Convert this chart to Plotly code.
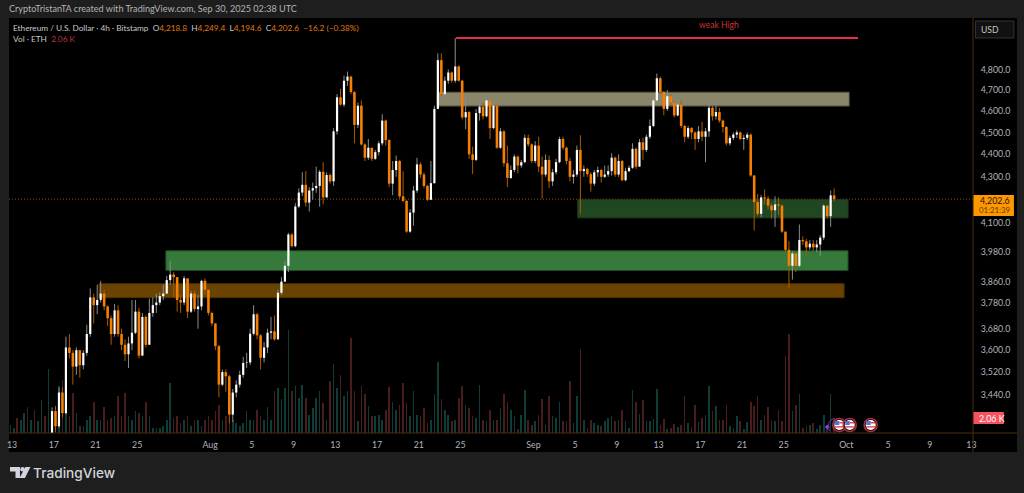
import math
import pandas as pd
import plotly.graph_objects as go

# ---------- data ----------
first_open = 3290
close = [3382,3330,3447,3375,3610,3590,3540,3600,3545,3590,3660,3800,3770,3790,3815,3765,3720,3660,3750,3660,
 3620,3585,3625,3665,3745,3580,3725,3620,3740,3770,3780,3805,3815,3868,3890,3880,3790,3780,3875,3745,
 3815,3755,3765,3865,3830,3740,3700,3615,3475,3520,3505,3370,3447,3475,3510,3553,3555,3661,3735,3655,
 3572,3610,3665,3670,3640,3818,3862,3925,4053,4005,4171,4231,4265,4188,4240,4250,4260,4322,4210,4308,
 4280,4505,4665,4630,4745,4765,4690,4535,4625,4445,4385,4430,4380,4410,4450,4555,4465,4270,4330,4370,
 4215,4195,4065,4145,4240,4355,4310,4260,4200,4272,4610,4846,4680,4745,4785,4745,4815,4745,4570,4595,
 4400,4375,4590,4620,4575,4650,4520,4625,4430,4505,4360,4295,4330,4390,4350,4365,4475,4445,4370,4440,
 4345,4310,4375,4280,4320,4365,4470,4430,4370,4300,4310,4420,4325,4335,4312,4270,4320,4330,4300,4310,
 4325,4385,4310,4370,4285,4325,4340,4425,4345,4455,4420,4480,4530,4650,4757,4690,4610,4670,4640,4579,
 4630,4530,4480,4520,4500,4470,4505,4480,4505,4615,4575,4595,4555,4525,4450,4475,4490,4500,4470,4475,
 4490,4306,4190,4140,4210,4205,4175,4155,4180,4175,4065,3990,3925,3975,3925,4030,4025,4000,4015,4000,
 4012,4040,4175,4130,4219,4202.6]
high = [3395,3400,3465,3465,3650,3660,3600,3610,3590,3600,3695,3835,3815,3850,3865,3830,3770,3730,3775,3770,
 3680,3640,3650,3790,3790,3760,3740,3730,3795,3800,3815,3820,3850,3885,3945,3900,3870,3810,3885,3875,
 3825,3825,3810,3870,3875,3830,3745,3700,3620,3530,3530,3510,3460,3490,3525,3575,3590,3680,3770,3740,
 3660,3630,3680,3725,3730,3830,3880,3945,4060,4060,4185,4250,4320,4325,4255,4275,4345,4330,4365,4320,
 4315,4520,4680,4705,4770,4790,4770,4695,4640,4650,4450,4470,4425,4420,4460,4585,4560,4470,4370,4395,
 4375,4325,4200,4160,4260,4385,4365,4320,4265,4370,4625,4880,4880,4765,4800,4790,4957,4820,4750,4672,
 4600,4435,4610,4635,4640,4655,4650,4635,4625,4520,4510,4440,4350,4400,4395,4375,4490,4490,4450,4460,
 4480,4390,4400,4395,4335,4380,4480,4480,4435,4385,4330,4440,4487,4350,4340,4320,4330,4345,4335,4350,
 4350,4405,4390,4400,4375,4340,4350,4450,4430,4470,4475,4490,4560,4665,4780,4765,4695,4700,4680,4645,
 4650,4650,4535,4530,4525,4505,4530,4550,4520,4640,4625,4625,4615,4560,4530,4485,4500,4510,4505,4490,
 4500,4495,4306,4225,4220,4245,4215,4185,4215,4210,4180,4065,4025,3985,3975,4095,4045,4035,4030,4030,
 4030,4050,4180,4170,4240,4249.4]
low = [3290,3310,3325,3360,3370,3570,3475,3510,3500,3530,3580,3650,3700,3735,3780,3750,3690,3620,3650,3650,
 3600,3560,3535,3600,3660,3570,3580,3610,3620,3725,3740,3770,3790,3815,3850,3800,3745,3740,3770,3720,
 3740,3745,3680,3750,3810,3730,3690,3600,3430,3470,3450,3340,3345,3430,3465,3500,3535,3545,3655,3640,
 3530,3555,3590,3640,3635,3640,3810,3860,3900,4000,4000,4165,4215,4170,4150,4200,4230,4170,4180,4250,
 4270,4260,4490,4625,4620,4720,4680,4450,4520,4440,4370,4375,4370,4375,4395,4440,4440,4255,4220,4300,
 4205,4190,4060,4060,4090,4230,4295,4250,4195,4200,4270,4610,4670,4670,4730,4735,4735,4740,4560,4515,
 4380,4312,4370,4555,4560,4570,4470,4515,4425,4425,4345,4255,4290,4320,4315,4340,4360,4435,4360,4360,
 4320,4205,4300,4250,4260,4310,4360,4420,4355,4280,4270,4300,4140,4300,4300,4235,4260,4300,4275,4295,
 4300,4305,4300,4300,4280,4280,4320,4335,4335,4350,4375,4410,4470,4525,4650,4680,4580,4600,4625,4570,
 4575,4520,4455,4470,4470,4420,4455,4460,4365,4480,4555,4560,4545,4500,4440,4440,4465,4475,4465,4420,
 4465,4300,4070,4130,4125,4180,4160,4120,4085,4135,4060,3980,3837,3870,3900,3920,4010,3970,3990,3985,
 3980,3965,4030,4120,4085,4194.6]

# volume in thousands of ETH; the first twelve bars come before the visible candles
early_down = [0,0,1,0,0,1,0,1,0,0,1,0]
volume = [1.1,0.7,2.0,1.8,2.7,3.6,1.8,3.2,1.6,4.5,2.3,8.7,2.7,3.6,6.4,7.3,4.1,2.3,5.5,2.7,
 0.9,0.9,1.8,2.3,4.3,1.8,1.8,3.6,1.8,2.1,2.3,5.0,2.3,5.5,2.3,1.8,3.0,2.7,2.3,4.3,
 2.3,0.7,0.7,0.7,0.9,1.8,6.8,2.1,2.3,1.4,1.8,2.3,0.9,1.8,1.8,0.9,1.8,2.3,1.8,3.0,
 3.9,1.8,2.3,2.3,1.8,1.4,0.9,1.4,3.0,1.8,1.8,3.2,2.3,1.8,3.6,1.8,5.7,6.2,4.6,6.2,
 14.1,5.7,6.4,4.8,6.6,4.8,2.5,3.4,4.8,5.7,4.1,1.8,7.1,9.5,6.2,8.0,5.0,5.7,13.0,5.7,
 1.6,6.4,5.3,3.7,2.3,2.3,2.4,1.8,3.2,6.3,4.3,3.2,3.9,6.8,4.1,2.3,5.7,2.5,2.3,3.4,
 1.4,1.8,5.3,9.7,4.6,3.2,2.5,1.6,1.8,4.8,6.4,3.9,3.4,2.3,2.1,6.6,1.8,1.6,3.2,1.8,
 1.8,3.4,5.3,4.3,3.2,2.3,0.5,2.5,5.9,1.8,1.1,1.6,2.5,4.6,1.1,5.0,2.3,2.1,4.2,1.6,
 1.6,7.1,1.4,5.0,11.5,1.8,0.7,1.8,1.4,1.1,1.0,1.6,2.1,2.3,1.6,1.8,3.1,1.6,0.7,5.9,
 4.2,2.6,4.5,1.6,1.6,1.9,6.0,1.1,1.9,0.5,0.7,1.3,0.8,1.1,5.0,1.4,0.8,3.9,1.5,2.1,
 2.5,6.4,3.0,3.7,1.8,1.8,3.9,1.0,0.7,2.3,1.6,0.5,1.5,4.2,3.7,5.1,1.8,2.5,3.6,1.8,
 1.6,3.2,1.6,10.6,13.5,3.0,3.9,5.4,0.7,0.9,1.1,1.4,0.5,1.1,2.5,1.1,5.4,2.06]

price_ticks = [4800,4700,4600,4500,4400,4300,4100,3980,3860,3780,3680,3600,3520,3440]
date_ticks = ["2025-07-13","2025-07-17","2025-07-21","2025-07-25","2025-08-01","2025-08-05","2025-08-09",
              "2025-08-13","2025-08-17","2025-08-21","2025-08-25","2025-09-01","2025-09-05","2025-09-09",
              "2025-09-13","2025-09-17","2025-09-21","2025-09-25","2025-10-01","2025-10-05","2025-10-09","2025-10-13"]
date_labels = ["13","17","21","25","Aug","5","9","13","17","21","25","Sep","5","9","13","17","21","25","Oct","5","9","13"]

zones = [
    ("2025-08-22 18:30","2025-10-01 07:00",4623,4690,"#8a866b","#3d3b2c"),
    ("2025-09-05 06:00","2025-10-01 04:00",4123,4200,"#1f4722","#2a3a20"),
    ("2025-07-27 18:00","2025-10-01 04:00",3906,3986,"#357a3a","#1f4a22"),
    ("2025-07-21 08:00","2025-09-30 19:00",3799,3854,"#6b4300","#4a2f00"),
]
weak_high = 4957
last_price = 4202.6

# ---------- derived series ----------
opens = [first_open] + close[:-1]
dates = list(pd.date_range("2025-07-16 20:00", periods=len(close), freq="8h"))
vol_dates = pd.date_range("2025-07-12 20:00", periods=len(volume), freq="8h")
down = list(early_down) + [c < o for o, c in zip(opens, close)]
vol_colors = ["#4a1d1d" if d else "#0e3d38" for d in down]

def segments(idx, lo, hi):
    xs, ys = [], []
    for i in idx:
        xs += [dates[i], dates[i], None]
        ys += [lo[i], hi[i], None]
    return xs, ys

body_hi = [max(o, c) for o, c in zip(opens, close)]
body_lo = [min(o, c) for o, c in zip(opens, close)]
wick_hi = [max(h, b) for h, b in zip(high, body_hi)]
wick_lo = [min(l, b) for l, b in zip(low, body_lo)]
up_idx = [i for i in range(len(close)) if close[i] >= opens[i]]
dn_idx = [i for i in range(len(close)) if close[i] < opens[i]]

# plot area in page pixels
L, R, T, B = 7, 973, 18, 433
def fx(px): return (px - L) / (R - L)
def fy(py): return (B - py) / (B - T)

fig = go.Figure()
fig.add_trace(go.Bar(x=vol_dates, y=volume, marker=dict(color=vol_colors, line_width=0),
                     width=8*3600*1000*0.46, yaxis="y", hoverinfo="skip", showlegend=False))
for idx, lo, hi, col, w in [
    (up_idx, wick_lo, wick_hi, "#8c8c8c", 1),
    (dn_idx, wick_lo, wick_hi, "#a85c00", 1),
    (dn_idx, body_lo, body_hi, "#f57f00", 2.6),
    (up_idx, body_lo, body_hi, "#ffffff", 2.2),
]:
    xs, ys = segments(idx, lo, hi)
    fig.add_trace(go.Scatter(x=xs, y=ys, mode="lines", yaxis="y2", line=dict(color=col, width=w),
                             connectgaps=False, hoverinfo="skip", showlegend=False))

shapes = []
def rect_px(x0, y0, x1, y1, fill, line=None, layer="above", lw=1):
    shapes.append(dict(type="rect", xref="paper", yref="paper", x0=fx(x0), x1=fx(x1), y0=fy(y0), y1=fy(y1),
                       fillcolor=fill, line=dict(color=line or fill, width=lw if line else 0), layer=layer))
def line_px(x0, y0, x1, y1, color, w=1):
    shapes.append(dict(type="line", xref="paper", yref="paper", x0=fx(x0), x1=fx(x1), y0=fy(y0), y1=fy(y1),
                       line=dict(color=color, width=w), layer="above"))
def circle_px(cx, cy, r, fill, line=None, lw=1):
    shapes.append(dict(type="circle", xref="paper", yref="paper", x0=fx(cx-r), x1=fx(cx+r), y0=fy(cy+r), y1=fy(cy-r),
                       fillcolor=fill, line=dict(color=line or fill, width=lw if line else 0), layer="above"))
def path_px(points, fill):
    d = "M " + " L ".join(f"{fx(x):.5f},{fy(y):.5f}" for x, y in points) + " Z"
    shapes.append(dict(type="path", xref="paper", yref="paper", path=d, fillcolor=fill,
                       line=dict(color=fill, width=0), layer="above"))

# chart panel
rect_px(7, 18, 1017, 452, "#000000", layer="below")
# zones
for x0, x1, y0, y1, fill, edge in zones:
    shapes.append(dict(type="rect", xref="x", yref="y2", x0=x0, x1=x1, y0=y0, y1=y1, fillcolor=fill,
                       line=dict(color=edge, width=1), layer="below"))
# weak-high line and last-price line
shapes.append(dict(type="line", xref="x", yref="y2", x0="2025-08-24 14:00", x1="2025-10-02 03:00", y0=weak_high, y1=weak_high,
                   line=dict(color="#ea2a4c", width=2), layer="above"))
shapes.append(dict(type="line", xref="paper", yref="y2", x0=0, x1=1, y0=last_price, y1=last_price,
                   line=dict(color="#b86a00", width=0.8, dash="1px,2px"), layer="below"))
# axes borders
line_px(973, 18, 973, 452, "#4a2f0c", 1)
line_px(7, 433, 1017, 433, "#4a2f0c", 1)
# USD box, last-price tag, volume tag
rect_px(975.5, 21, 1014, 38, "#111111", "#333333")
rect_px(973.5, 195, 1014, 216, "#ff9800")
rect_px(973.5, 412, 1004, 424, "#f7525f")
# news flags
for cx in (839, 849.5, 870.5):
    circle_px(cx, 425, 6.6, "#2a0d10", "#a8323e", 1.4)
    circle_px(cx, 425, 5, "#ffffff")
    rect_px(cx-4.5, 421, cx, 425, "#4a78d8")
    rect_px(cx-4.8, 426.2, cx+4.8, 427.6, "#e04555")
    rect_px(cx, 422, cx+4.2, 423.5, "#e04555")
# purple event marker
path_px([(827,424.5),(829.5,427),(827,429.5),(824.5,427)], "#8a3fe0")
shapes.append(dict(type="path", xref="paper", yref="paper",
                   path=f"M {fx(834):.5f},{fy(418.5):.5f} Q {fx(826):.5f},{fy(420):.5f} {fx(829):.5f},{fy(431):.5f}",
                   line=dict(color="#6a35b0", width=1), layer="above"))
# TradingView logo
path_px([(8,467),(18,467),(18,478),(13.5,478),(13.5,471.5),(8,471.5)], "#d1d4dc")
circle_px(20.6, 469.3, 2.3, "#d1d4dc")
path_px([(23.5,467),(28.5,467),(23,478),(17.5,478)], "#d1d4dc")

FONT = "Lato, sans-serif"
GREY = "#b2b5bd"
ann = []
def text_px(x, y, txt, color=GREY, size=8.5, anchor="left", family=FONT, weight=None):
    f = dict(color=color, size=size, family=family)
    if weight:
        f["weight"] = weight
    ann.append(dict(xref="paper", yref="paper", x=fx(x), y=fy(y), text=txt, showarrow=False, xanchor=anchor, yanchor="middle",
                    align="left", borderpad=0, borderwidth=0, font=f))

OR = "#e07a10"
text_px(7, 9, "CryptoTristanTA created with TradingView.com, Sep 30, 2025 02:38 UTC", "#b4b4b4", 9.1)
text_px(11, 28, f"Ethereum / U.S. Dollar · 4h · Bitstamp  O<span style='color:{OR}'>4,218.8</span>  H<span style='color:{OR}'>4,249.4</span>  "
                f"L<span style='color:{OR}'>4,194.6</span>  C<span style='color:{OR}'>4,202.6</span>  <span style='color:{OR}'>−16.2 (−0.38%)</span>", "#c8c8c8", 8.25)
text_px(11, 39, "Vol · ETH  <span style='color:#b8383e'>2.06 K</span>", "#c8c8c8", 8.25)
text_px(718, 25, "weak High", "#c8323c", 8.6, "center")
text_px(981, 30, "USD", "#c4c4c4", 8.6)
text_px(980, 200, "4,202.6", "#1a1206", 8.8)
text_px(979, 210, "01:21:39", "#5a3a06", 7.8)
text_px(979, 418.5, "2.06 K", "#ffffff", 8.8)
text_px(31.5, 473, "TradingView", "#d1d4dc", 13.7, family="Inter, sans-serif", weight=500)

y_low = 3307; y_high = 5060
fig.update_layout(
    width=1024, height=493, autosize=False,
    margin=dict(l=L, r=1024-R, t=T, b=493-B),
    paper_bgcolor="#1e1e1e", plot_bgcolor="rgba(0,0,0,0)",
    bargap=0, showlegend=False, hovermode=False,
    shapes=shapes, annotations=ann,
    xaxis=dict(type="date", range=["2025-07-12 17:00","2025-10-13 03:36"],
               tickmode="array", tickvals=date_ticks, ticktext=date_labels, showgrid=False, zeroline=False,
               showline=False, ticks="outside", ticklen=3, tickcolor="rgba(0,0,0,0)",
               tickfont=dict(color=GREY, size=8.8, family=FONT)),
    yaxis=dict(range=[0, 56.8], visible=False, fixedrange=True),
    yaxis2=dict(type="log", overlaying="y", side="right", range=[math.log10(y_low), math.log10(y_high)],
                tickmode="array", tickvals=price_ticks, ticktext=[f"{v:,.1f}" for v in price_ticks],
                showgrid=False, zeroline=False, showline=False, ticks="outside", ticklen=5, tickcolor="rgba(0,0,0,0)",
                tickfont=dict(color=GREY, size=8.8, family=FONT)),
)

fig.write_html("out.html", config=dict(displayModeBar=False, staticPlot=True),
               post_script="document.body.style.margin='0';document.body.style.overflow='hidden';document.body.style.background='#1e1e1e';")
